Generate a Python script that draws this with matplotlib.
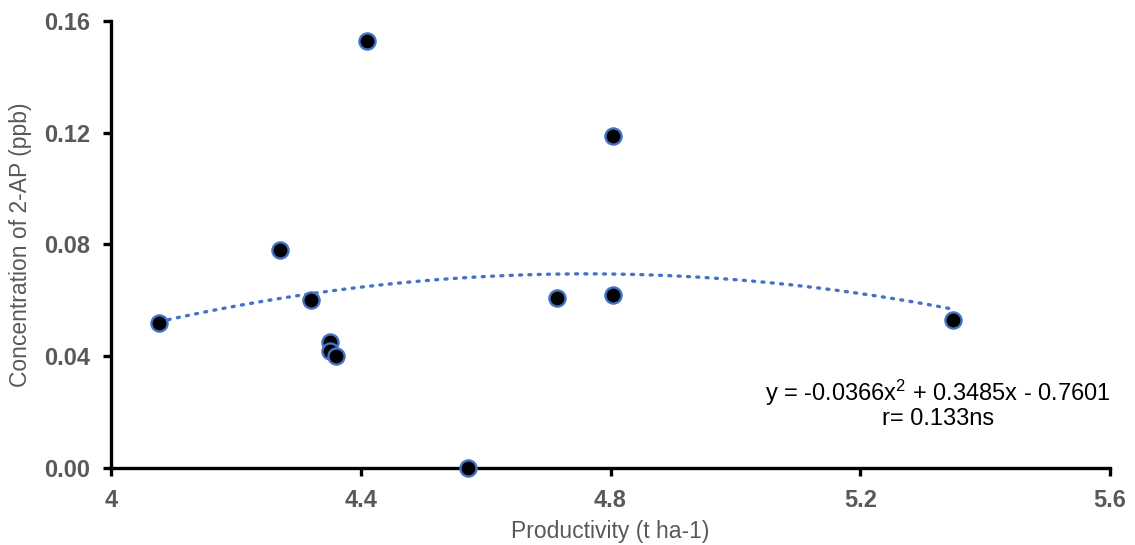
import numpy as np
import matplotlib.pyplot as plt

plt.rcParams['font.family'] = ['Liberation Sans', 'DejaVu Sans']
plt.rcParams['mathtext.fontset'] = 'custom'
plt.rcParams['mathtext.rm'] = 'Liberation Sans'
plt.rcParams['mathtext.default'] = 'regular'

# Data
productivity = [4.077, 4.27, 4.32, 4.35, 4.35, 4.36, 4.41, 4.572, 4.714, 4.804, 4.804, 5.349]
conc_2ap = [0.052, 0.078, 0.060, 0.045, 0.042, 0.040, 0.153, 0.0, 0.061, 0.119, 0.062, 0.053]

# Polynomial trendline coefficients (as printed on the chart)
coef = [-0.0366, 0.3485, -0.7601]

x_ticks = [4, 4.4, 4.8, 5.2, 5.6]
x_tick_labels = ['4', '4.4', '4.8', '5.2', '5.6']
y_ticks = [0.00, 0.04, 0.08, 0.12, 0.16]

grey = '#595959'
blue = '#4472C4'

fig = plt.figure(figsize=(11.35, 5.45), dpi=100)
ax = fig.add_axes([0.0978, 0.1413, 0.8802, 0.8202])

# trendline
xt = np.linspace(min(productivity), max(productivity), 200)
ax.plot(xt, np.polyval(coef, xt), color=blue, linestyle=(0, (0.6, 2.2)),
        linewidth=2.4, dash_capstyle='round', zorder=2)

ax.scatter(productivity, conc_2ap, s=135, facecolor='black', edgecolor=blue,
           linewidth=1.7, zorder=3, clip_on=False)

ax.set_xlim(4, 5.6)
ax.set_ylim(0, 0.16)
ax.set_xticks(x_ticks)
ax.set_xticklabels(x_tick_labels)
ax.set_yticks(y_ticks)
ax.set_yticklabels([f'{v:.2f}' for v in y_ticks])

for s in ['top', 'right']:
    ax.spines[s].set_visible(False)
for s in ['left', 'bottom']:
    ax.spines[s].set_linewidth(2.4)
    ax.spines[s].set_color('black')

ax.tick_params(axis='both', direction='out', length=6, width=2.4, color='black',
               labelsize=17, labelcolor=grey, pad=9)
for lbl in ax.get_xticklabels() + ax.get_yticklabels():
    lbl.set_fontweight('bold')

ax.set_xlabel('Productivity (t ha-1)', fontsize=16.5, color=grey, labelpad=6)
ax.set_ylabel('Concentration of 2-AP (ppb)', fontsize=16.5, color=grey, labelpad=9)

ax.text(0.828, 0.168, 'y = -0.0366x$^{2}$ + 0.3485x - 0.7601',
        transform=ax.transAxes, ha='center', va='center', fontsize=17, color='black')
ax.text(0.828, 0.110, 'r= 0.133ns',
        transform=ax.transAxes, ha='center', va='center', fontsize=17, color='black')

fig.savefig('out.png', dpi=100)
